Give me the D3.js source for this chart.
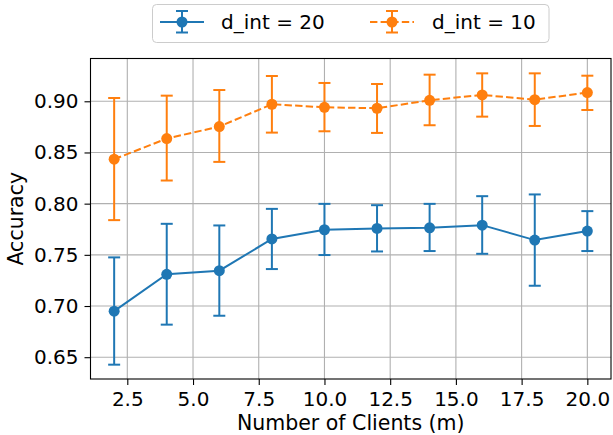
<!DOCTYPE html>
<html><head><meta charset="utf-8">
<script src="https://cdn.jsdelivr.net/npm/d3@7"></script>
<style>body{margin:0;background:#fff}svg{display:block}text{font-family:"DejaVu Sans",sans-serif;fill:#000}</style>
</head><body><svg id="c" width="613" height="435"></svg>
<script>
const clients = [2,4,6,8,10,12,14,16,18,20];
const seriesNames = ["d_int = 20","d_int = 10"];
const mean20 = [0.695,0.731,0.7345,0.7655,0.7745,0.7758,0.7764,0.779,0.7644,0.7732];
const lo20   = [0.6427,0.6818,0.6905,0.7361,0.7498,0.7533,0.7537,0.751,0.7198,0.7537];
const hi20   = [0.7475,0.7803,0.7787,0.7949,0.7998,0.7985,0.7998,0.8073,0.809,0.7927];
const mean10 = [0.8434,0.8636,0.8753,0.8971,0.8941,0.8932,0.901,0.9062,0.9016,0.9085];
const lo10   = [0.7839,0.8226,0.8408,0.8694,0.8707,0.8691,0.8766,0.885,0.8759,0.8915];
const hi10   = [0.9032,0.9055,0.911,0.9247,0.9179,0.9169,0.926,0.9273,0.9273,0.925];
const xTicks = [2.5,5.0,7.5,10.0,12.5,15.0,17.5,20.0];
const yTicks = [0.65,0.70,0.75,0.80,0.85,0.90];
const colors = ["#1f77b4","#ff7f0e"];

const svg = d3.select("#c");
const L=90.5, R=611, T=58.5, B=379;
const x = d3.scaleLinear().domain([1.1,20.9]).range([L,R]);
const y = d3.scaleLinear().domain([0.6287,0.9418]).range([B,T]);
const FS = 20;

// grid
const g = svg.append("g");
g.selectAll(".gx").data(xTicks).join("line").attr("x1",d=>x(d)).attr("x2",d=>x(d)).attr("y1",T).attr("y2",B).attr("stroke","#b0b0b0").attr("stroke-width",1.1);
g.selectAll(".gy").data(yTicks).join("line").attr("y1",d=>y(d)).attr("y2",d=>y(d)).attr("x1",L).attr("x2",R).attr("stroke","#b0b0b0").attr("stroke-width",1.1);

const series = [
  {name:seriesNames[0], m:mean20, lo:lo20, hi:hi20, c:colors[0], dash:null},
  {name:seriesNames[1], m:mean10, lo:lo10, hi:hi10, c:colors[1], dash:"7.4,3.2"}
];
const cap = 6;
series.forEach(s=>{
  const gg = svg.append("g");
  const pts = clients.map((c,i)=>({x:c,m:s.m[i],lo:s.lo[i],hi:s.hi[i]}));
  gg.selectAll(".eb").data(pts).join("line").attr("x1",d=>x(d.x)).attr("x2",d=>x(d.x)).attr("y1",d=>y(d.lo)).attr("y2",d=>y(d.hi)).attr("stroke",s.c).attr("stroke-width",2);
  ["lo","hi"].forEach(k=>{
    gg.selectAll(".cap"+k).data(pts).join("line").attr("x1",d=>x(d.x)-cap).attr("x2",d=>x(d.x)+cap).attr("y1",d=>y(d[k])).attr("y2",d=>y(d[k])).attr("stroke",s.c).attr("stroke-width",2);
  });
  gg.append("path").datum(pts).attr("d",d3.line().x(d=>x(d.x)).y(d=>y(d.m))).attr("fill","none").attr("stroke",s.c).attr("stroke-width",2).attr("stroke-dasharray",s.dash);
  gg.selectAll("circle").data(pts).join("circle").attr("cx",d=>x(d.x)).attr("cy",d=>y(d.m)).attr("r",5.5).attr("fill",s.c);
});

// frame
svg.append("rect").attr("x",L).attr("y",T).attr("width",R-L).attr("height",B-T).attr("fill","none").attr("stroke","#000").attr("stroke-width",1.1);

// axes
const xa = svg.append("g").attr("transform",`translate(0,${B})`).call(d3.axisBottom(x).tickValues(xTicks).tickFormat(d3.format(".1f")).tickSize(6).tickPadding(7));
const ya = svg.append("g").attr("transform",`translate(${L},0)`).call(d3.axisLeft(y).tickValues(yTicks).tickFormat(d3.format(".2f")).tickSize(6).tickPadding(6));
[xa,ya].forEach(a=>{a.select(".domain").remove();a.selectAll("line").attr("stroke","#000").attr("stroke-width",1.1);a.selectAll("text").style("font-size",FS+"px").style("font-family","DejaVu Sans");});

svg.append("text").attr("x",(L+R)/2).attr("y",430).attr("text-anchor","middle").style("font-size","20.5px").text("Number of Clients (m)");
svg.append("text").attr("transform",`translate(23,${(T+B)/2}) rotate(-90)`).attr("text-anchor","middle").style("font-size","20.5px").text("Accuracy");

// legend
const lg = svg.append("g");
lg.append("rect").attr("x",152.5).attr("y",4.5).attr("width",396.5).attr("height",38).attr("rx",4).attr("fill","#fff").attr("fill-opacity",0.8).attr("stroke","#cccccc").attr("stroke-width",1);
const items = [{s:series[0],x0:160,tx:221},{s:series[1],x0:370,tx:432}];
items.forEach(it=>{
  const cy=22, cx=it.x0+22;
  lg.append("line").attr("x1",it.x0).attr("x2",it.x0+44).attr("y1",cy).attr("y2",cy).attr("stroke",it.s.c).attr("stroke-width",2).attr("stroke-dasharray",it.s.dash);
  lg.append("line").attr("x1",cx).attr("x2",cx).attr("y1",11).attr("y2",32.5).attr("stroke",it.s.c).attr("stroke-width",2);
  [11,32.5].forEach(yy=>lg.append("line").attr("x1",cx-cap).attr("x2",cx+cap).attr("y1",yy).attr("y2",yy).attr("stroke",it.s.c).attr("stroke-width",2));
  lg.append("circle").attr("cx",cx).attr("cy",cy).attr("r",5.5).attr("fill",it.s.c);
  lg.append("text").attr("x",it.tx).attr("y",cy).attr("dy","0.35em").style("font-size",FS+"px").text(it.s.name);
});
</script></body></html>
